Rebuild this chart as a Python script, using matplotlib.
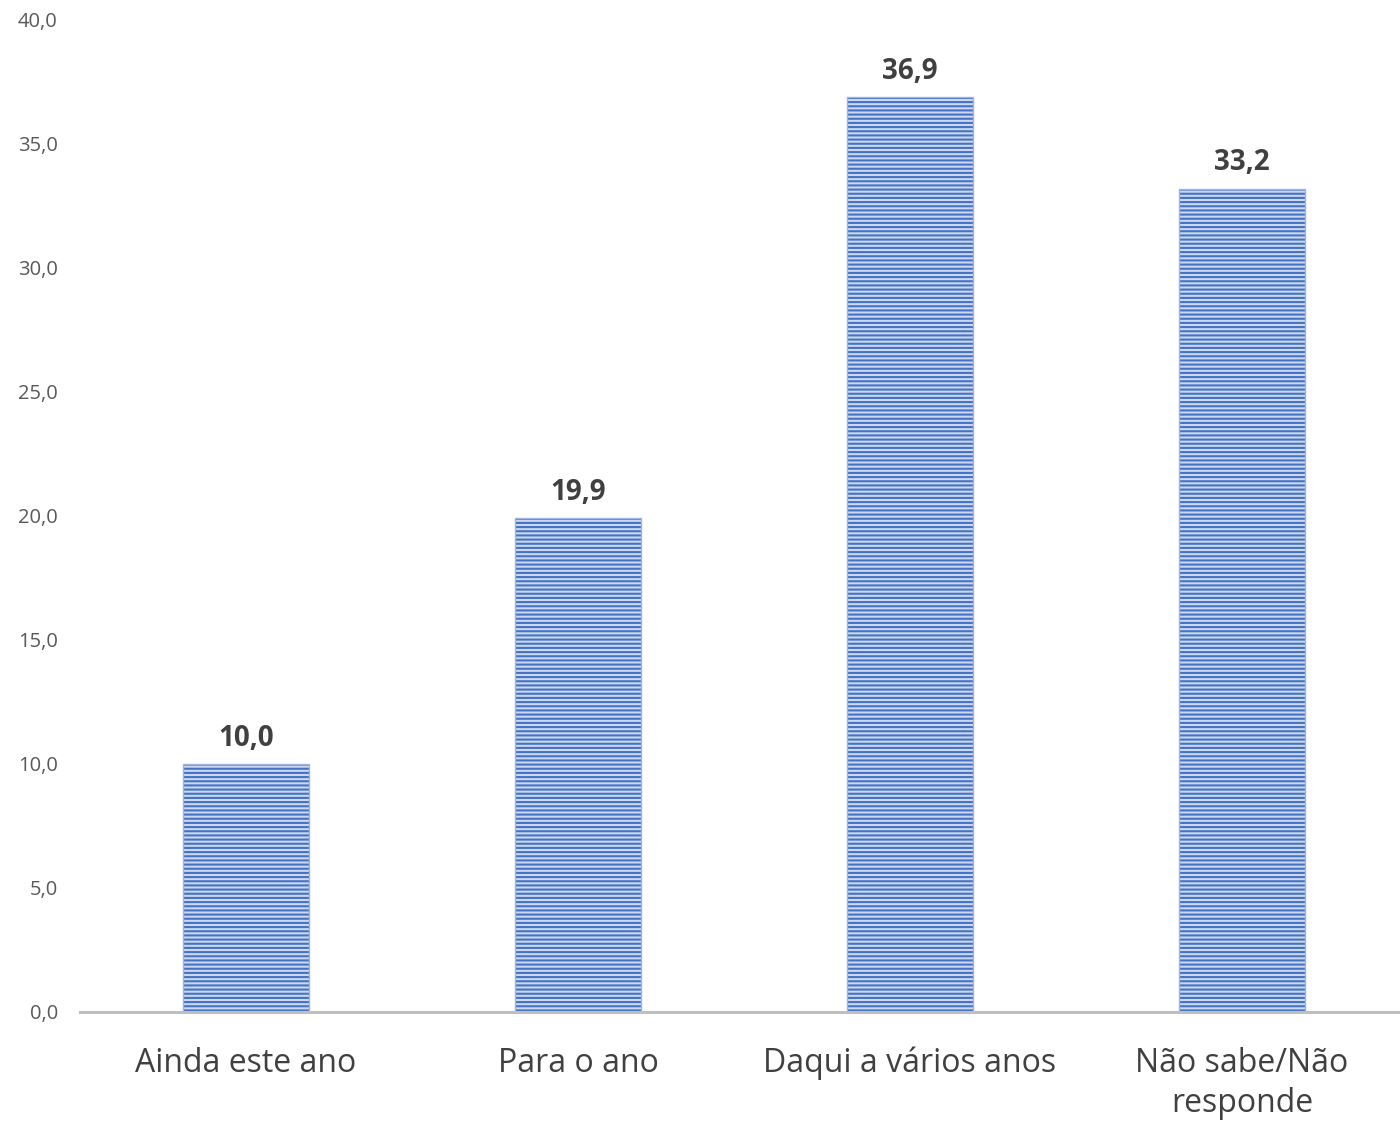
import matplotlib.pyplot as plt

plt.rcParams['font.family'] = ['Open Sans', 'DejaVu Sans']
plt.rcParams['hatch.linewidth'] = 1.5

categories = ['Ainda este ano', 'Para o ano', 'Daqui a vários anos', 'Não sabe/Não\nresponde']
values = [10.0, 19.9, 36.9, 33.2]
yticks = [0, 5, 10, 15, 20, 25, 30, 35, 40]

fig = plt.figure(figsize=(14, 11.23), dpi=100)
ax = fig.add_axes([80 / 1400, 111 / 1123, 1328 / 1400, 992 / 1123])

x = list(range(len(categories)))
ax.bar(x, values, width=0.38, color='#cbd8f0', edgecolor='#4472C4',
       linewidth=0, hatch='----')
# light border around bars
ax.bar(x, values, width=0.38, fill=False, edgecolor='#9db5e3', linewidth=1)

for xi, v in zip(x, values):
    ax.text(xi, v + 0.45, f'{v:.1f}'.replace('.', ','), ha='center', va='bottom',
            fontsize=20, fontweight='bold', color='#404040')

ax.set_xlim(-0.5, 3.5)
ax.set_ylim(0, 40)
ax.set_yticks(yticks)
ax.set_yticklabels([f'{t:.1f}'.replace('.', ',') for t in yticks])
ax.set_xticks(x)
ax.set_xticklabels(categories)

for s in ['top', 'right', 'left']:
    ax.spines[s].set_visible(False)
ax.spines['bottom'].set_color('#bfbfbf')
ax.spines['bottom'].set_linewidth(2.2)

ax.tick_params(axis='y', length=0, labelsize=14.5, labelcolor='#595959', pad=16)
ax.tick_params(axis='x', length=0, labelsize=23, labelcolor='#404040', pad=25)
for lbl in ax.get_xticklabels():
    lbl.set_linespacing(1.3)

fig.savefig('out.png', dpi=100)
